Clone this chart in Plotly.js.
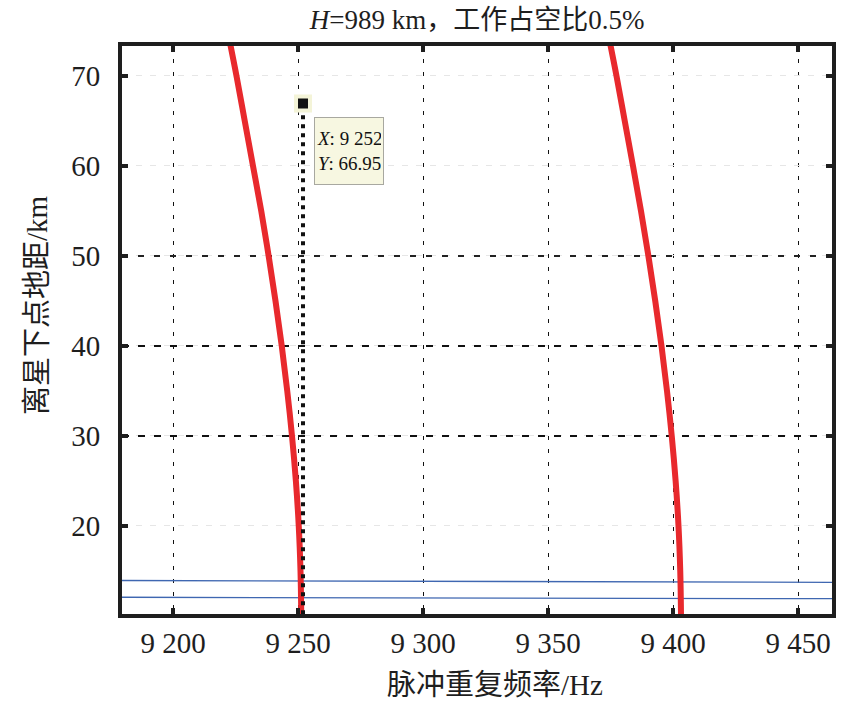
<!DOCTYPE html>
<html>
<head>
<meta charset="utf-8">
<script src="https://cdn.plot.ly/plotly-3.0.1.min.js"></script>
<style>html,body{margin:0;padding:0;background:#fff;}#chart{width:852px;height:714px;}</style>
</head>
<body>
<div id="chart"></div>
<script>
// ---- data ----
const distanceKm = [10.2, 15, 20, 25, 30, 35, 40, 45, 50, 55, 60, 65, 70, 73.4];
const prfLeft  = [9251.3, 9251.0, 9250.3, 9249.15, 9247.6, 9245.7, 9243.5, 9241.0, 9238.25, 9235.3, 9232.0, 9228.7, 9225.4, 9223.0];
const prfRight = [9403.2, 9402.9, 9402.2, 9401.05, 9399.5, 9397.6, 9395.4, 9392.9, 9390.15, 9387.2, 9384.0, 9380.7, 9377.4, 9375.0];

const blueX      = [9179.6, 9463.6];
const blueUpperY = [13.94, 13.74];
const blueLowerY = [12.08, 11.92];

const tipX = [9252];
const tipY = [66.95];
const tipLineX = [9252, 9252];
const tipLineY = [10.2, 66.95];

const xTicks = [9200, 9250, 9300, 9350, 9400, 9450];
const yTicks = [20, 30, 40, 50, 60, 70];
const yTicksMid = [50];
const yTicksBold = [30, 40];

const xRange = [9179.6, 9463.6];
const yRange = [10.22, 73.33];

const titleText = '<i>H</i>=989 km，工作占空比0.5%';
const xTitleText = '脉冲重复频率/Hz';
const yTitleText = '离星下点地距/km';

// ---- drawing ----
const serif = '"Liberation Serif", "Times New Roman", "Noto Sans CJK SC", serif';
const ink = '#1e1e1e';

function fmtThousands(v) {
  const s = String(Math.round(v));
  return s.replace(/\B(?=(\d{3})+(?!\d))/g, ' ');
}

const traces = [
  {x: blueX, y: blueUpperY, mode: 'lines', line: {color: '#3f67b1', width: 1.3}, hoverinfo: 'skip'},
  {x: blueX, y: blueLowerY, mode: 'lines', line: {color: '#3f67b1', width: 1.3}, hoverinfo: 'skip'},
  {x: prfLeft, y: distanceKm, mode: 'lines', line: {color: '#e8292d', width: 6, shape: 'spline', smoothing: 1}, hoverinfo: 'skip'},
  {x: prfRight, y: distanceKm, mode: 'lines', line: {color: '#e8292d', width: 6, shape: 'spline', smoothing: 1}, hoverinfo: 'skip'},
  {x: tipLineX, y: tipLineY, mode: 'lines', line: {color: '#111', width: 4, dash: '4px,5px'}, hoverinfo: 'skip'},
  {x: tipX, y: tipY, mode: 'markers', marker: {symbol: 'square', size: 14, color: '#111', line: {color: '#f4f4d8', width: 4}}, hoverinfo: 'skip'}
];

function axisCommon() {
  return {
    showline: true, linewidth: 4, linecolor: ink, mirror: 'ticks',
    ticks: 'inside', ticklen: 6, tickwidth: 4, tickcolor: ink,
    tickfont: {family: serif, size: 29, color: ink},
    zeroline: false
  };
}

const layout = {
  width: 852, height: 714,
  margin: {l: 122, r: 20, t: 46, b: 100},
  paper_bgcolor: '#fff', plot_bgcolor: '#fff',
  showlegend: false,
  separators: '. ',
  font: {family: serif, color: ink},
  title: {
    text: titleText,
    font: {family: serif, size: 27, color: ink},
    x: 0.56, xref: 'container', xanchor: 'center',
    y: 0.973, yref: 'container', yanchor: 'middle'
  },
  xaxis: Object.assign(axisCommon(), {
    range: xRange, tickmode: 'array', tickvals: xTicks, tickformat: ',d',
    showgrid: true, gridcolor: '#111', gridwidth: 1, griddash: '4px,9px',
    ticklabelstandoff: 0
  }),
  yaxis: Object.assign(axisCommon(), {
    range: yRange, tickmode: 'array', tickvals: yTicks,
    showgrid: true, gridcolor: '#e6e6e6', gridwidth: 1, griddash: '6px,8px',
    ticklabelstandoff: 12
  }),
  yaxis2: {
    overlaying: 'y', range: yRange, tickmode: 'array', tickvals: yTicksMid,
    showgrid: true, gridcolor: '#222', gridwidth: 1.3, griddash: '6px,10px',
    showticklabels: false, ticks: '', showline: false, zeroline: false
  },
  yaxis3: {
    overlaying: 'y', range: yRange, tickmode: 'array', tickvals: yTicksBold,
    showgrid: true, gridcolor: '#111', gridwidth: 2.4, griddash: '7px,9px',
    showticklabels: false, ticks: '', showline: false, zeroline: false
  },
  annotations: [
    {
      x: tipX[0], y: tipY[0], xref: 'x', yref: 'y',
      text: '<i>X</i>: ' + fmtThousands(tipX[0]) + '<br><i>Y</i>: ' + tipY[0].toFixed(2),
      showarrow: false, xanchor: 'left', yanchor: 'top', align: 'left',
      xshift: 11, yshift: -14, width: 64, height: 62,
      font: {family: serif, size: 19, color: '#111'},
      bgcolor: '#f7f7e1', bordercolor: '#a8a8a0', borderwidth: 1, borderpad: 2
    },
    {
      text: xTitleText, xref: 'paper', yref: 'paper', x: 0.525, y: -0.125,
      xanchor: 'center', yanchor: 'middle', showarrow: false,
      font: {family: serif, size: 29, color: ink}
    },
    {
      text: yTitleText, xref: 'paper', yref: 'paper', x: -0.1197, y: 0.544,
      xanchor: 'center', yanchor: 'middle', showarrow: false, textangle: -90,
      font: {family: serif, size: 29, color: ink}
    }
  ]
};

// grid-only overlay traces so the overlay axes are drawn
traces.push({x: [xRange[0]], y: [yRange[0]], yaxis: 'y2', mode: 'markers', marker: {opacity: 0}, hoverinfo: 'skip'});
traces.push({x: [xRange[0]], y: [yRange[0]], yaxis: 'y3', mode: 'markers', marker: {opacity: 0}, hoverinfo: 'skip'});

Plotly.newPlot('chart', traces, layout, {staticPlot: true, displayModeBar: false});
</script>
</body>
</html>
